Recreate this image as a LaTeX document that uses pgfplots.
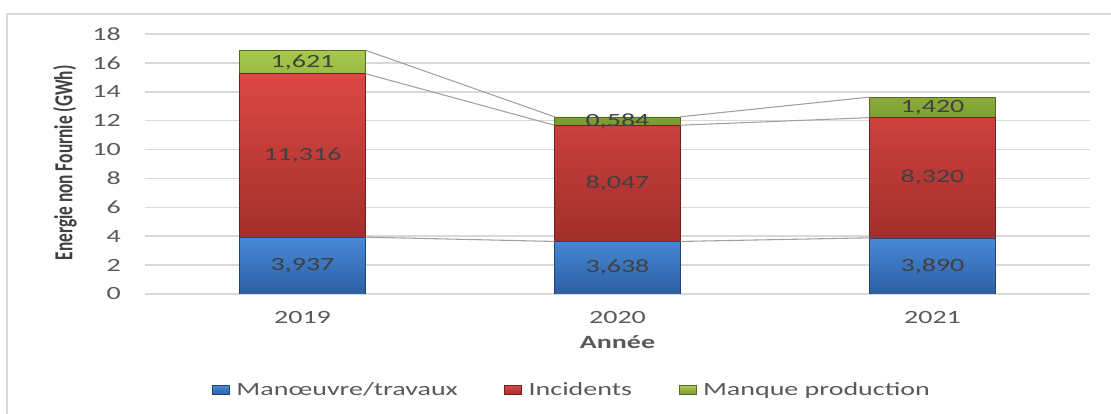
\documentclass[border=0pt]{standalone}
\usepackage{pgfplots}
\pgfplotsset{compat=1.18}
\usepackage{fontspec}
\setmainfont{Carlito}[FakeStretch=1.5]
\newfontfamily\ylabfont{Carlito}
\definecolor{txt}{HTML}{595959}
\definecolor{lab}{HTML}{404040}
\definecolor{gridc}{HTML}{D9D9D9}
\definecolor{framec}{HTML}{D9D9D9}
\definecolor{sline}{HTML}{A0A0A0}
\definecolor{bluetop}{HTML}{4A8AD8}
\definecolor{bluebot}{HTML}{2C5FA3}
\definecolor{redtop}{HTML}{DC4845}
\definecolor{redbot}{HTML}{A12E2B}
\definecolor{greentop}{HTML}{A8C94E}
\definecolor{greenbot}{HTML}{7A9A2E}
\pgfplotsset{common/.style={scale only axis, width=708.75pt, height=195pt,
  xmin=-0.5, xmax=2.5, ymin=0, ymax=18, at={(0,0)}, anchor=south west}}
\begin{document}
\begin{tikzpicture}
\begin{axis}[common, ybar stacked, bar width=0.4,
  axis line style={draw=none}, ymajorgrids, grid style={gridc, line width=1.2pt},
  major tick length=0pt, ytick={0,2,...,18}, xtick={0,1,2}, xticklabels={2019,2020,2021},
  /pgf/number format/assume math mode=true,
  tick label style={font=\fontsize{14}{16}\selectfont, text=txt, inner sep=0pt},
  yticklabel shift=18pt, xticklabel shift=12.5pt,
  xlabel={\bfseries Année},
  xlabel style={at={(axis description cs:0.5,-0.2077)}, anchor=base, font=\fontsize{14}{16}\selectfont, text=txt},
  ylabel={\scalebox{1}[1.5]{\ylabfont\bfseries Energie non Fournie (GWh)}},
  ylabel style={at={(axis description cs:-0.0847,0.504)}, anchor=center, font=\fontsize{13}{15}\selectfont, text=lab},
  legend style={at={(axis description cs:0.0709,-0.369)}, anchor=west, draw=none, fill=none, inner sep=0pt,
    font=\fontsize{14}{16}\selectfont, text=txt,
    /tikz/every odd column/.append style={column sep=3pt},
    /tikz/every even column/.append style={column sep=33pt}},
  legend columns=3,
  legend image code/.code={\path[#1] (0pt,-3.4pt) rectangle (12.75pt,3.4pt);},
]
\addplot[draw=bluebot!70!black, top color=bluetop, bottom color=bluebot] coordinates {(0,3.937) (1,3.638) (2,3.890)};
\addplot[draw=redbot!70!black, top color=redtop, bottom color=redbot] coordinates {(0,11.316) (1,8.047) (2,8.320)};
\addplot[draw=greenbot!70!black, top color=greentop, bottom color=greenbot] coordinates {(0,1.621) (1,0.584) (2,1.420)};
\legend{Manœuvre/travaux, Incidents, Manque production}
\end{axis}
\begin{axis}[common, hide axis]
\addplot[sline, line width=0.8pt, mark=none, unbounded coords=jump] coordinates {(0.2,3.937) (0.8,3.638) (1,nan) (1.2,3.638) (1.8,3.890)};
\addplot[sline, line width=0.8pt, mark=none, unbounded coords=jump] coordinates {(0.2,15.253) (0.8,11.685) (1,nan) (1.2,11.685) (1.8,12.210)};
\addplot[sline, line width=0.8pt, mark=none, unbounded coords=jump] coordinates {(0.2,16.874) (0.8,12.269) (1,nan) (1.2,12.269) (1.8,13.630)};
\addplot[draw=none, mark=none, nodes near coords, point meta=explicit symbolic,
  every node near coord/.style={font=\fontsize{14}{16}\selectfont, text=lab, anchor=center}]
  coordinates {(0,1.9685) [3,937] (0,9.595) [11,316] (0,16.0635) [1,621]
               (1,1.819) [3,638] (1,7.6615) [8,047] (1,11.977) [0,584]
               (2,1.945) [3,890] (2,8.05) [8,320] (2,12.92) [1,420]};
\end{axis}
\draw[framec, line width=1.5pt] (-103.5pt,-100pt) -- (-103.5pt,210pt) -- (800pt,210pt);
\pgfresetboundingbox
\path[use as bounding box] (-108.75pt,-90pt) rectangle (724.5pt,220.5pt);
\end{tikzpicture}
\end{document}
